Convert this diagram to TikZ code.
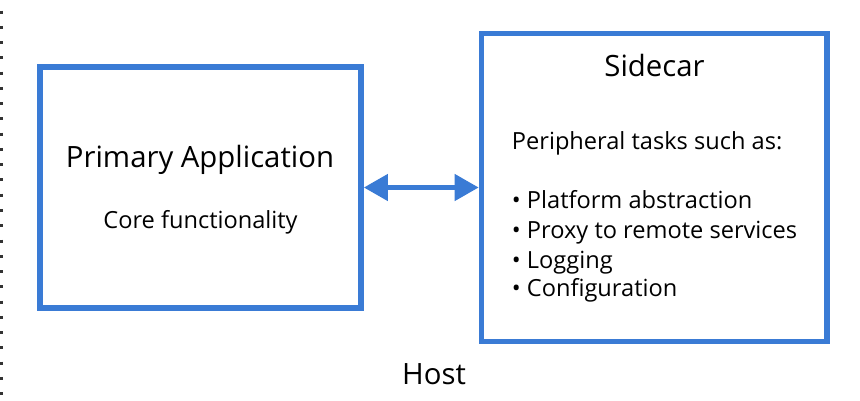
\documentclass[tikz,border=0pt]{standalone}
\usepackage{fontspec}
\setmainfont{Open Sans}
\usetikzlibrary{arrows.meta}
\definecolor{msblue}{RGB}{58,123,213}
\begin{document}
\begin{tikzpicture}[x=0.75pt,y=-0.75pt,
  box/.style={draw=msblue,line width=4.3pt,inner sep=0pt,fill=white},
  title/.style={font=\fontsize{22}{26}\selectfont,text=black,inner sep=0pt,anchor=base},
  body/.style={font=\fontsize{17.7}{21}\selectfont,text=black,inner sep=0pt},
  link/.style={draw=msblue,line width=3.4pt,{Triangle[length=18pt,width=19.5pt]}-{Triangle[length=18pt,width=19.5pt]}},
  dotline/.style={draw=black!80,line width=2.25pt,dash pattern=on 2.25pt off 9.2pt}
]
\useasboundingbox (0,0) rectangle (860,400);
\coordinate (dtop) at (1.5,10.5);
\coordinate (dbot) at (1.5,400);
\draw[dotline] (dtop) -- (dbot);

\node[box,minimum width=240.75pt,minimum height=180.75pt] (primary) at (200.5,187.5) {};
\node[box,minimum width=259.1pt,minimum height=231pt] (sidecar) at (654.25,187.5) {};

\node[title] (ptitle) at (200,167) {Primary Application};
\node[body,anchor=base] (core) at (200.5,228.7) {Core functionality};

\node[title] (stitle) at (654.5,76) {Sidecar};
\node[body,anchor=base west] (periph) at (511.7,149) {Peripheral tasks such as:};
\node[body,anchor=base west] (b1) at (511.7,208) {• Platform abstraction};
\node[body,anchor=base west] (b2) at (511.7,238) {• Proxy to remote services};
\node[body,anchor=base west] (b3) at (511.7,268) {• Logging};
\node[body,anchor=base west] (b4) at (511.7,296) {• Configuration};

\node[title] (host) at (434,384) {Host};

\draw[link] (primary.east) -- (sidecar.west);
\end{tikzpicture}
\end{document}
